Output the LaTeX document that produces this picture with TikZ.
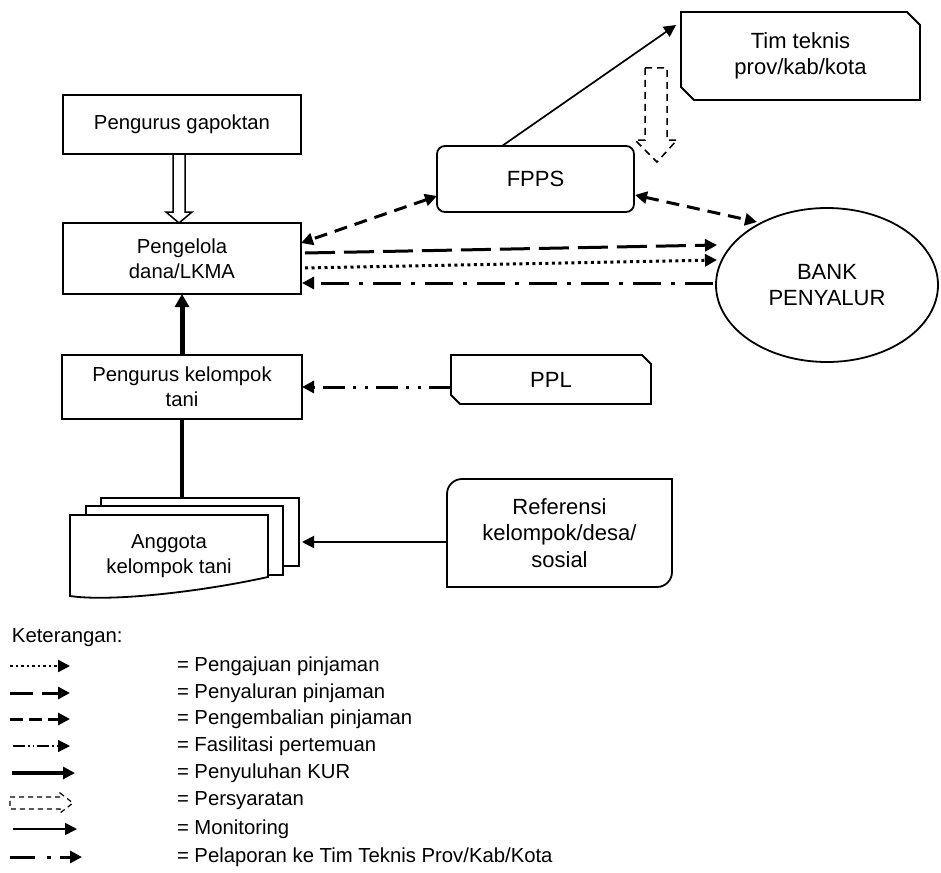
\documentclass[tikz,border=0pt]{standalone}
\usepackage{fontspec}
\setmainfont{Liberation Sans}
\usetikzlibrary{arrows.meta,calc,shapes.geometric}
\newcommand\fsmall{\fontsize{20.3}{25}\selectfont}
\newcommand\fbig{\fontsize{22}{26.5}\selectfont}
\begin{document}
\begin{tikzpicture}[x=1pt,y=1pt,
  every node/.style={inner sep=0pt, outer sep=0pt},
  bx/.style={draw, line width=1.8pt, align=center, font=\fsmall},
  ln/.style={line width=1.8pt},
  tip/.style={-{Triangle[length=12pt,width=12pt]}},
  pengajuan/.style={line width=3pt, dash pattern=on 3pt off 3.5pt, tip},
  penyaluran/.style={line width=3pt, dash pattern=on 30pt off 9pt, tip},
  pengembalian/.style={line width=3pt, dash pattern=on 13pt off 8pt, tip},
  fasilitasi/.style={line width=3pt, dash pattern=on 22pt off 8pt on 3pt off 9pt on 3pt off 8pt, tip},
  kur/.style={line width=5pt, -{Triangle[length=13pt,width=14pt]}},
  monitor/.style={line width=1.7pt, tip},
  pelaporan/.style={line width=3pt, dash pattern=on 28pt off 10pt on 4pt off 10pt, tip},
  syarat/.style={line width=1.5pt, dash pattern=on 7pt off 5pt},
  lgtext/.style={anchor=west, font=\fsmall}
]
\useasboundingbox (0,0) rectangle (941,-872);

% ---------- nodes ----------
\node[bx, minimum width=238, minimum height=59] (gap) at (182,-124.5) {Pengurus gapoktan};
\node[bx, minimum width=238, minimum height=71] (lkma) at (182,-258.5) {Pengelola\\dana/LKMA};
\node[bx, minimum width=240, minimum height=64] (pkt) at (182,-387) {Pengurus kelompok\\tani};
\node[bx, font=\fbig, rounded corners=8pt, minimum width=197, minimum height=66] (fpps) at (535.5,-179) {FPPS};
\node[align=center, font=\fbig, minimum width=239, minimum height=88] (tim) at (800.5,-56) {Tim teknis\\prov/kab/kota};
\draw[ln] (tim.north west) -- ([xshift=-13pt]tim.north east) -- ([yshift=-13pt]tim.north east)
  -- (tim.south east) -- ([xshift=13pt]tim.south west) -- ([yshift=13pt]tim.south west) -- cycle;
\node[ellipse, draw, line width=1.8pt, font=\fbig, align=center, minimum width=222, minimum height=154] (bank) at (827,-285) {BANK\\PENYALUR};
\node[font=\fbig, minimum width=200, minimum height=49] (ppl) at (551,-379.5) {PPL};
\draw[ln] (ppl.north west) -- ([xshift=-9pt]ppl.north east) -- ([yshift=-9pt]ppl.north east)
  -- (ppl.south east) -- ([xshift=9pt]ppl.south west) -- ([yshift=9pt]ppl.south west) -- cycle;
\node[align=center, font=\fbig, minimum width=225, minimum height=108] (ref) at (559.5,-533) {Referensi\\kelompok/desa/\\sosial};
\draw[ln] (ref.south west) -- ([yshift=-15pt]ref.north west) arc[start angle=180,end angle=90,radius=15pt]
  -- (ref.north east) -- ([yshift=15pt]ref.south east) arc[start angle=0,end angle=-90,radius=15pt] -- cycle;

% stacked documents
\node[minimum width=198, minimum height=68] (angback) at (200,-532) {};
\draw[ln, fill=white] (angback.south west) rectangle (angback.north east);
\draw[ln, fill=white] (86,-506) rectangle (283,-575);
\draw[ln, fill=white] (70,-515) -- (268,-515) -- (268,-577)
  .. controls (200,-592) and (110,-602) .. (70,-596) -- cycle;
\node[align=center, font=\fsmall] (ang) at (169,-556) {Anggota\\kelompok tani};

% ---------- connectors ----------
% open arrow gapoktan -> pengelola
\draw[line width=1.5pt] ($(gap.south)+(-9,0)$) -- ++(0,-58) -- ++(-7,0) -- ++(13,-11)
  -- ++(13,11) -- ++(-7,0) -- ++(0,58);
% Penyuluhan KUR
\draw[kur] (pkt.north) -- (lkma.south);
\draw[line width=3.5pt] (pkt.south) -- (pkt.south |- angback.north);
% Referensi -> Anggota
\coordinate (r1) at ($(ref.west)+(0,-9)$);
\draw[line width=2pt, tip] (r1) -- ($(angback.east |- r1)+(3,0)$);
% PPL -> Pengurus kelompok
\coordinate (p1) at ($(ppl.west)+(0,-7.5)$);
\draw[fasilitasi] (p1) -- (pkt.east |- p1);
% Monitoring
\draw[monitor] ($(fpps.north)+(-33.5,0)$) -- ($(tim.west)+(-5,31)$);
% Persyaratan
\coordinate (ps) at (645,-68);
\draw[syarat] (ps) -- ++(22,0) -- ++(0,-72) -- ++(10,0) -- ++(-20,-22) -- ++(-22,22) -- ++(10,0) -- cycle;
% pengembalian FPPS <-> Pengelola, FPPS <-> Bank
\draw[pengembalian, {Triangle[length=12pt,width=12pt]}-{Triangle[length=12pt,width=12pt]}]
  ($(fpps.west)+(0,-17)$) -- ($(lkma.east)+(0,15.5)$);
\draw[pengembalian, {Triangle[length=12pt,width=12pt]}-{Triangle[length=12pt,width=12pt]}]
  ($(fpps.east)+(1,-16)$) -- ($(bank.center)+(-70,63)$);
% Pengelola <-> Bank
\draw[penyaluran] ($(lkma.east)+(4,5.5)$) -- ($(bank.west)+(1,40)$);
\draw[pengajuan] ($(lkma.east)+(4,-9.5)$) -- ($(bank.west)+(1,25)$);
\draw[pelaporan] ($(bank.west)+(-3,2)$) -- ($(lkma.east)+(1,-24.5)$);

% ---------- legend ----------
\node[lgtext] (ket) at (12,-638) {Keterangan:};
\coordinate (l1a) at (10,-666); \coordinate (l1b) at (70,-666);
\draw[line width=2.5pt, dash pattern=on 2.5pt off 3pt, tip] (l1a) -- (l1b);
\node[lgtext] (t1) at (177,-666) {= Pengajuan pinjaman};
\coordinate (l2a) at (10,-693); \coordinate (l2b) at (70,-693);
\draw[line width=3pt, dash pattern=on 23pt off 9pt, tip] (l2a) -- (l2b);
\node[lgtext] (t2) at (177,-693) {= Penyaluran pinjaman};
\coordinate (l3a) at (10,-719); \coordinate (l3b) at (70,-719);
\draw[line width=3pt, dash pattern=on 13pt off 6pt, tip] (l3a) -- (l3b);
\node[lgtext] (t3) at (177,-719) {= Pengembalian pinjaman};
\coordinate (l4a) at (13,-746); \coordinate (l4b) at (70,-746);
\draw[line width=1.2pt, dash pattern=on 12pt off 3pt on 1.5pt off 3pt on 1.5pt off 3pt, tip] (l4a) -- (l4b);
\node[lgtext] (t4) at (177,-746) {= Fasilitasi pertemuan};
\coordinate (l5a) at (12,-773); \coordinate (l5b) at (75,-773);
\draw[line width=4pt, tip] (l5a) -- (l5b);
\node[lgtext] (t5) at (177,-773) {= Penyuluhan KUR};
\coordinate (l6) at (10,-797);
\draw[line width=1.2pt, dash pattern=on 5pt off 4pt] (l6) -- ++(50,0) -- ++(0,4) -- ++(13,-10)
  -- ++(-13,-10) -- ++(0,4) -- ++(-50,0) -- cycle;
\node[lgtext] (t6) at (177,-801) {= Persyaratan};
\coordinate (l7a) at (13,-829); \coordinate (l7b) at (77,-829);
\draw[line width=1.5pt, tip] (l7a) -- (l7b);
\node[lgtext] (t7) at (177,-829) {= Monitoring};
\coordinate (l8a) at (10,-857); \coordinate (l8b) at (82,-857);
\draw[line width=3pt, dash pattern=on 25pt off 12pt on 4pt off 9pt, tip] (l8a) -- (l8b);
\node[lgtext] (t8) at (177,-857) {= Pelaporan ke Tim Teknis Prov/Kab/Kota};
\end{tikzpicture}
\end{document}
